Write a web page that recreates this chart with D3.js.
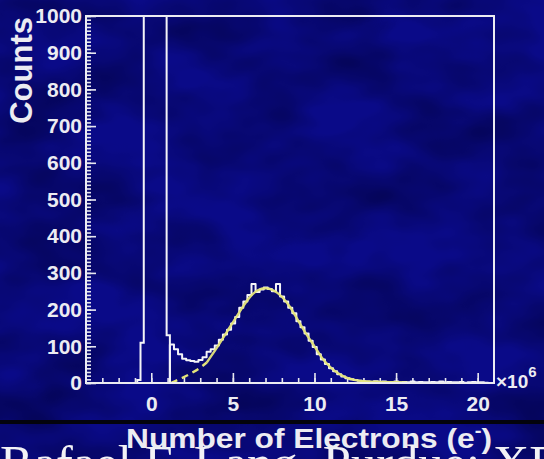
<!DOCTYPE html>
<html>
<head>
<meta charset="utf-8">
<script src="https://cdn.jsdelivr.net/npm/d3@7"></script>
<style>
  html, body { margin: 0; padding: 0; background: #0a0a82; }
  svg { display: block; }
</style>
</head>
<body>
<div id="chart"></div>
<script>
// pedestal peak (x in units of 10^6 electrons, bins of 0.2)
var pedestalStart = -0.86;
var pedestalWidth = 0.2;
var pedestalCounts = [8, 110, 1400, 1400, 1400, 1400, 1400, 1400, 1400, 130];

// electron spectrum, bins of 0.25
var spectrumStart = 1.14;
var spectrumWidth = 0.25;
var spectrumCounts = [
  105, 92, 78, 66, 62, 60, 58, 63, 70, 85,
  92, 102, 118, 132, 145, 162, 180, 205, 222, 240,
  270, 248, 255, 260, 256, 250, 270, 236, 222, 205,
  190, 168, 152, 135, 115, 98, 78, 64, 52, 40,
  32, 24, 18, 13, 10, 8, 6, 5,
  4, 3, 5, 3, 4, 2, 3, 4, 2, 3,
  2, 4, 2, 3, 2, 2, 3, 2, 4, 2,
  3, 2, 2, 3, 1, 2, 3, 2, 2, 1
];

// fit curve
var fitX = [1.2, 1.5, 2.0, 2.5, 3.0, 3.4, 4.0, 4.5, 5.0, 5.5, 6.0, 6.5, 7.0, 7.5, 8.0, 8.5, 9.0, 9.5, 10.0, 10.5, 11.0, 11.5, 12.0, 12.5, 13.0, 14.0, 15.0, 15.7];
var fitY = [0, 6, 16, 28, 42, 56, 95, 130, 165, 200, 232, 252, 258, 252, 235, 207, 170, 133, 100, 66, 42, 25, 14, 8, 5, 3, 2, 1];
var fitDashedUpTo = 3.4;

var xMajor = [0, 5, 10, 15, 20];
var yMajor = [0, 100, 200, 300, 400, 500, 600, 700, 800, 900, 1000];

var svgWidth = 544;
var svgHeight = 459;
var plot = { left: 86, right: 494, top: 16, bottom: 383 };
var sans = "'Liberation Sans', Arial, sans-serif";
var ink = "#ececf2";

var svg = d3.select("#chart")
  .append("svg")
  .attr("width", svgWidth)
  .attr("height", svgHeight);

var defs = svg.append("defs");

var noise = defs.append("filter")
  .attr("id", "noise")
  .attr("x", 0).attr("y", 0).attr("width", "100%").attr("height", "100%");
noise.append("feTurbulence")
  .attr("type", "fractalNoise")
  .attr("baseFrequency", "0.01 0.018")
  .attr("numOctaves", 3)
  .attr("seed", 7);
noise.append("feColorMatrix")
  .attr("type", "matrix")
  .attr("values", "0 0 0 0 0  0 0 0 0 0  0 0 0 0 0.03  1.1 0 0 0 -0.36");

defs.append("clipPath")
  .attr("id", "plotclip")
  .append("rect")
  .attr("x", plot.left)
  .attr("y", plot.top)
  .attr("width", plot.right - plot.left)
  .attr("height", plot.bottom - plot.top + 1);

// background
svg.append("rect")
  .attr("width", svgWidth)
  .attr("height", svgHeight)
  .attr("fill", "#0a0a88");
svg.append("rect")
  .attr("width", svgWidth)
  .attr("height", svgHeight)
  .attr("filter", "url(#noise)");

var x = d3.scaleLinear()
  .domain([-4, 21])
  .range([plot.left, plot.right]);

var y = d3.scaleLinear()
  .domain([0, 1000])
  .range([plot.bottom, plot.top]);

// minor ticks
svg.append("g")
  .attr("class", "axis")
  .attr("transform", `translate(0, ${plot.bottom})`)
  .call(d3.axisBottom(x).tickValues(d3.range(-3, 21, 1)).tickSize(-5).tickFormat(""));

svg.append("g")
  .attr("class", "axis")
  .attr("transform", `translate(${plot.left}, 0)`)
  .call(d3.axisLeft(y).tickValues(d3.range(0, 1001, 10)).tickSize(-5).tickFormat(""));

// major ticks + labels
svg.append("g")
  .attr("class", "axis")
  .attr("transform", `translate(0, ${plot.bottom})`)
  .call(d3.axisBottom(x).tickValues(xMajor).tickSize(-10).tickPadding(13).tickFormat(d3.format("d")));

svg.append("g")
  .attr("class", "axis")
  .attr("transform", `translate(${plot.left}, 0)`)
  .call(d3.axisLeft(y).tickValues(yMajor).tickSize(-10).tickPadding(4).tickFormat(d3.format("d")));

svg.selectAll(".axis .domain").remove();
svg.selectAll(".axis line")
  .attr("stroke", "#e8e8f0")
  .attr("stroke-width", 1.6);
svg.selectAll(".axis text")
  .style("fill", ink)
  .style("font-family", sans)
  .style("font-weight", "bold")
  .style("font-size", "21px");

// histograms
function stepPoints(start, width, counts) {
  var pts = [[start, 0]];
  counts.forEach(function(c, i) {
    var a = start + i * width;
    pts.push([a, c], [a + width, c]);
  });
  pts.push([start + counts.length * width, 0]);
  return pts;
}

var histLine = d3.line()
  .x(d => x(d[0]))
  .y(d => y(d[1]));

var histGroup = svg.append("g").attr("clip-path", "url(#plotclip)");

histGroup.append("path")
  .attr("d", histLine(stepPoints(pedestalStart, pedestalWidth, pedestalCounts)))
  .attr("fill", "none")
  .attr("stroke", "#f4f4f8")
  .attr("stroke-width", 2);

histGroup.append("path")
  .attr("d", histLine(stepPoints(spectrumStart, spectrumWidth, spectrumCounts)))
  .attr("fill", "none")
  .attr("stroke", "#f4f4f8")
  .attr("stroke-width", 2)
  .attr("stroke-linejoin", "round");

// fit curve
var fitPoints = fitX.map((v, i) => [v, fitY[i]]);
var fitLine = d3.line()
  .x(d => x(d[0]))
  .y(d => y(d[1]))
  .curve(d3.curveMonotoneX);

histGroup.append("path")
  .attr("d", fitLine(fitPoints.filter(d => d[0] <= fitDashedUpTo)))
  .attr("fill", "none")
  .attr("stroke", "#e4e47a")
  .attr("stroke-width", 2.4)
  .attr("stroke-dasharray", "7,5");

histGroup.append("path")
  .attr("d", fitLine(fitPoints.filter(d => d[0] >= fitDashedUpTo)))
  .attr("fill", "none")
  .attr("stroke", "#e4e47a")
  .attr("stroke-width", 2.4)
  .attr("opacity", 0.95);

// frame
svg.append("rect")
  .attr("x", plot.left)
  .attr("y", plot.top)
  .attr("width", plot.right - plot.left)
  .attr("height", plot.bottom - plot.top)
  .attr("fill", "none")
  .attr("stroke", ink)
  .attr("stroke-width", 2);

function label(sel, size) {
  return sel.style("fill", ink)
    .style("font-family", sans)
    .style("font-weight", "bold")
    .style("font-size", size + "px");
}

// exponent
var expo = label(svg.append("text"), 19)
  .attr("x", plot.right + 2)
  .attr("y", 388);
expo.append("tspan").text("×10");
expo.append("tspan").attr("dy", -11).style("font-size", "15px").text("6");

// y title
label(svg.append("text"), 31)
  .attr("transform", "translate(32, 17) rotate(-90)")
  .attr("text-anchor", "end")
  .text("Counts");

// black scan band
svg.append("rect")
  .attr("x", 0)
  .attr("y", 420)
  .attr("width", svgWidth)
  .attr("height", 4)
  .attr("fill", "#03030c");

// footer
svg.append("text")
  .attr("x", 0)
  .attr("y", 479)
  .style("font-family", "'Liberation Serif', 'Times New Roman', serif")
  .style("font-weight", "normal")
  .style("font-size", "48px")
  .style("fill", "#f2f2f6")
  .attr("textLength", 560)
  .attr("lengthAdjust", "spacingAndGlyphs")
  .text("Rafael F. Lang, Purdue: XE");

// x title
var xt = label(svg.append("text"), 28)
  .attr("x", 126)
  .attr("y", 448)
  .attr("textLength", 366)
  .attr("lengthAdjust", "spacingAndGlyphs");
xt.append("tspan").text("Number of Electrons (e");
xt.append("tspan").attr("dy", -11).style("font-size", "18px").text("-");
xt.append("tspan").attr("dy", 11).text(")");
</script>
</body>
</html>
